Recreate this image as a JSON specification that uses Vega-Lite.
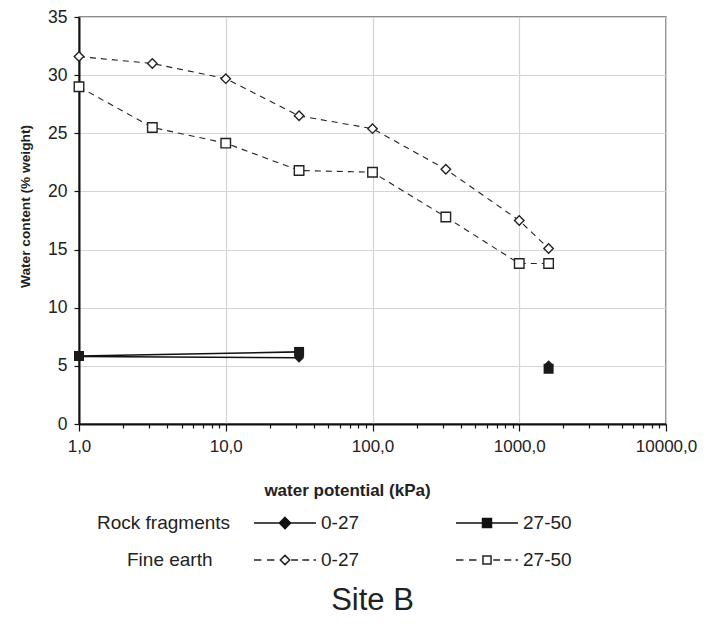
{
  "$schema": "https://vega.github.io/schema/vega-lite/v6.json",
  "autosize": "none",
  "width": 587,
  "height": 407,
  "padding": {"left": 79, "top": 17, "right": 41, "bottom": 208},
  "background": "white",
  "config": {
    "font": "Liberation Sans",
    "view": {"stroke": "#666666", "strokeWidth": 1.5},
    "axis": {"labelFont": "Liberation Sans", "titleFont": "Liberation Sans", "labelColor": "#222222", "titleColor": "#222222", "gridColor": "#d4d4d4", "gridWidth": 1.2, "domainColor": "#111111", "domainWidth": 2, "tickColor": "#111111", "tickWidth": 1.2},
    "legend": {"labelFont": "Liberation Sans", "titleFont": "Liberation Sans"}
  },
  "title": {"text": "Site B", "orient": "bottom", "offset": 16, "fontSize": 31, "fontWeight": "normal", "color": "#222222", "font": "Liberation Sans"},
  "data": {"values": [
    {"x": 1, "y": 5.8, "group": "rock", "series": "0-27", "seg": 1},
    {"x": 31.6, "y": 5.7, "group": "rock", "series": "0-27", "seg": 1},
    {"x": 1585, "y": 5.05, "group": "rock", "series": "0-27", "seg": 2},
    {"x": 1, "y": 5.85, "group": "rock", "series": "27-50", "seg": 1},
    {"x": 31.6, "y": 6.2, "group": "rock", "series": "27-50", "seg": 1},
    {"x": 1585, "y": 4.75, "group": "rock", "series": "27-50", "seg": 2},
    {"x": 1, "y": 31.6, "group": "fine", "series": "0-27", "seg": 1},
    {"x": 3.16, "y": 31.0, "group": "fine", "series": "0-27", "seg": 1},
    {"x": 10, "y": 29.7, "group": "fine", "series": "0-27", "seg": 1},
    {"x": 31.6, "y": 26.5, "group": "fine", "series": "0-27", "seg": 1},
    {"x": 100, "y": 25.4, "group": "fine", "series": "0-27", "seg": 1},
    {"x": 316, "y": 21.9, "group": "fine", "series": "0-27", "seg": 1},
    {"x": 1000, "y": 17.5, "group": "fine", "series": "0-27", "seg": 1},
    {"x": 1585, "y": 15.1, "group": "fine", "series": "0-27", "seg": 1},
    {"x": 1, "y": 29.0, "group": "fine", "series": "27-50", "seg": 1},
    {"x": 3.16, "y": 25.5, "group": "fine", "series": "27-50", "seg": 1},
    {"x": 10, "y": 24.15, "group": "fine", "series": "27-50", "seg": 1},
    {"x": 31.6, "y": 21.8, "group": "fine", "series": "27-50", "seg": 1},
    {"x": 100, "y": 21.65, "group": "fine", "series": "27-50", "seg": 1},
    {"x": 316, "y": 17.8, "group": "fine", "series": "27-50", "seg": 1},
    {"x": 1000, "y": 13.8, "group": "fine", "series": "27-50", "seg": 1},
    {"x": 1585, "y": 13.8, "group": "fine", "series": "27-50", "seg": 1}
  ]},
  "encoding": {
    "x": {"field": "x", "type": "quantitative",
      "scale": {"type": "log", "domain": [1, 10000], "nice": false},
      "axis": {
        "values": [1,2,3,4,5,6,7,8,9,10,20,30,40,50,60,70,80,90,100,200,300,400,500,600,700,800,900,1000,2000,3000,4000,5000,6000,7000,8000,9000,10000],
        "labelExpr": "abs(log(datum.value)/LN10 - round(log(datum.value)/LN10)) < 0.001 ? replace(format(datum.value, '.1f'), '.', ',') : ''",
        "labelOverlap": false, "labelFlush": false, "labelFontSize": 17, "labelPadding": 7,
        "tickSize": {"condition": {"test": "abs(log(datum.value)/LN10 - round(log(datum.value)/LN10)) < 0.001", "value": 7}, "value": 4},
        "gridOpacity": {"condition": {"test": "abs(log(datum.value)/LN10 - round(log(datum.value)/LN10)) < 0.001", "value": 1}, "value": 0},
        "title": "water potential (kPa)", "titleFontSize": 17, "titleFontWeight": "bold",
        "titleX": 268, "titleY": 66, "titleBaseline": "middle"
      }
    },
    "y": {"field": "y", "type": "quantitative",
      "scale": {"domain": [0, 35], "nice": false},
      "axis": {
        "values": [0,5,10,15,20,25,30,35], "labelFontSize": 17.5, "labelPadding": 7, "tickSize": 5,
        "title": "Water content (% weight)", "titleFontSize": 13.7, "titleFontWeight": "bold",
        "titleX": -54, "titleY": 189, "titleBaseline": "middle", "titleAngle": -90
      }
    }
  },
  "layer": [
    {
      "transform": [{"filter": "datum.group === 'rock'"}],
      "mark": {"type": "line", "color": "#111111", "strokeWidth": 1.6},
      "encoding": {"detail": [{"field": "series"}, {"field": "seg"}]}
    },
    {
      "transform": [{"filter": "datum.group === 'fine'"}],
      "mark": {"type": "line", "color": "#222222", "strokeWidth": 1.1, "strokeDash": [6, 5]},
      "encoding": {"detail": {"field": "series"}}
    },
    {
      "transform": [{"filter": "datum.group === 'rock'"}],
      "mark": {"type": "point", "filled": true, "color": "#1a1a1a", "size": 100, "opacity": 1},
      "encoding": {
        "shape": {"field": "series", "type": "nominal",
          "scale": {"domain": ["0-27", "27-50"], "range": ["diamond", "square"]}, "legend": null}
      }
    },
    {
      "transform": [{"filter": "datum.group === 'fine'"}],
      "mark": {"type": "point", "filled": true, "fill": "white", "stroke": "#222222", "strokeWidth": 1.4, "size": 90, "opacity": 1},
      "encoding": {
        "shape": {"field": "series", "type": "nominal",
          "scale": {"domain": ["0-27", "27-50"], "range": ["diamond", "square"]}, "legend": null}
      }
    },
    {
      "transform": [{"filter": "datum.group === 'legendonly'"}],
      "mark": {"type": "point", "filled": true, "fill": "#111111", "stroke": "#111111", "strokeWidth": 1.5, "opacity": 1},
      "encoding": {
        "shape": {"field": "series", "type": "nominal",
          "scale": {"domain": ["0-27", "27-50"], "range": ["M-1,0H1M0,-0.18L0.18,0L0,0.18L-0.18,0Z", "M-1,0H1M-0.145,-0.145H0.145V0.145H-0.145Z"]},
          "legend": {
            "title": "Rock fragments", "orient": "none", "legendX": 18, "legendY": 474, "titleOrient": "left",
            "titleFontSize": 19, "titleFontWeight": "normal", "titleColor": "#222222", "titlePadding": 22, "titleAnchor": "middle", "titleBaseline": "line-top", "titleLineHeight": 22,
            "direction": "horizontal", "columns": 2, "columnPadding": 83, "gridAlign": "all",
            "labelFontSize": 19, "labelColor": "#222222", "labelOffset": 4, "symbolSize": 3844, "padding": 0
          }
        }
      }
    },
    {
      "transform": [{"filter": "datum.group === 'legendonly'"}],
      "mark": {"type": "point", "filled": true, "fill": "white", "stroke": "#222222", "strokeWidth": 1.2, "opacity": 1},
      "encoding": {
        "shape": {"field": "series", "type": "nominal",
          "scale": {"domain": ["0-27", "27-50"], "range": ["M-1,0H-0.76M-0.58,0H-0.34M0.2,0H0.42M0.56,0H0.78M0.92,0H1M0,-0.15L0.15,0L0,0.15L-0.15,0Z", "M-1,0H-0.76M-0.58,0H-0.34M0.2,0H0.42M0.56,0H0.78M0.92,0H1M-0.13,-0.13H0.13V0.13H-0.13Z"]},
          "legend": {
            "title": "Fine earth", "orient": "none", "legendX": 48, "legendY": 511, "titleOrient": "left",
            "titleFontSize": 19, "titleFontWeight": "normal", "titleColor": "#222222", "titlePadding": 40, "titleAnchor": "middle", "titleBaseline": "line-top", "titleLineHeight": 22,
            "direction": "horizontal", "columns": 2, "columnPadding": 83, "gridAlign": "all",
            "labelFontSize": 19, "labelColor": "#222222", "labelOffset": 4, "symbolSize": 3844, "padding": 0
          }
        }
      }
    }
  ],
  "resolve": {"scale": {"shape": "independent"}, "legend": {"shape": "independent"}}
}
